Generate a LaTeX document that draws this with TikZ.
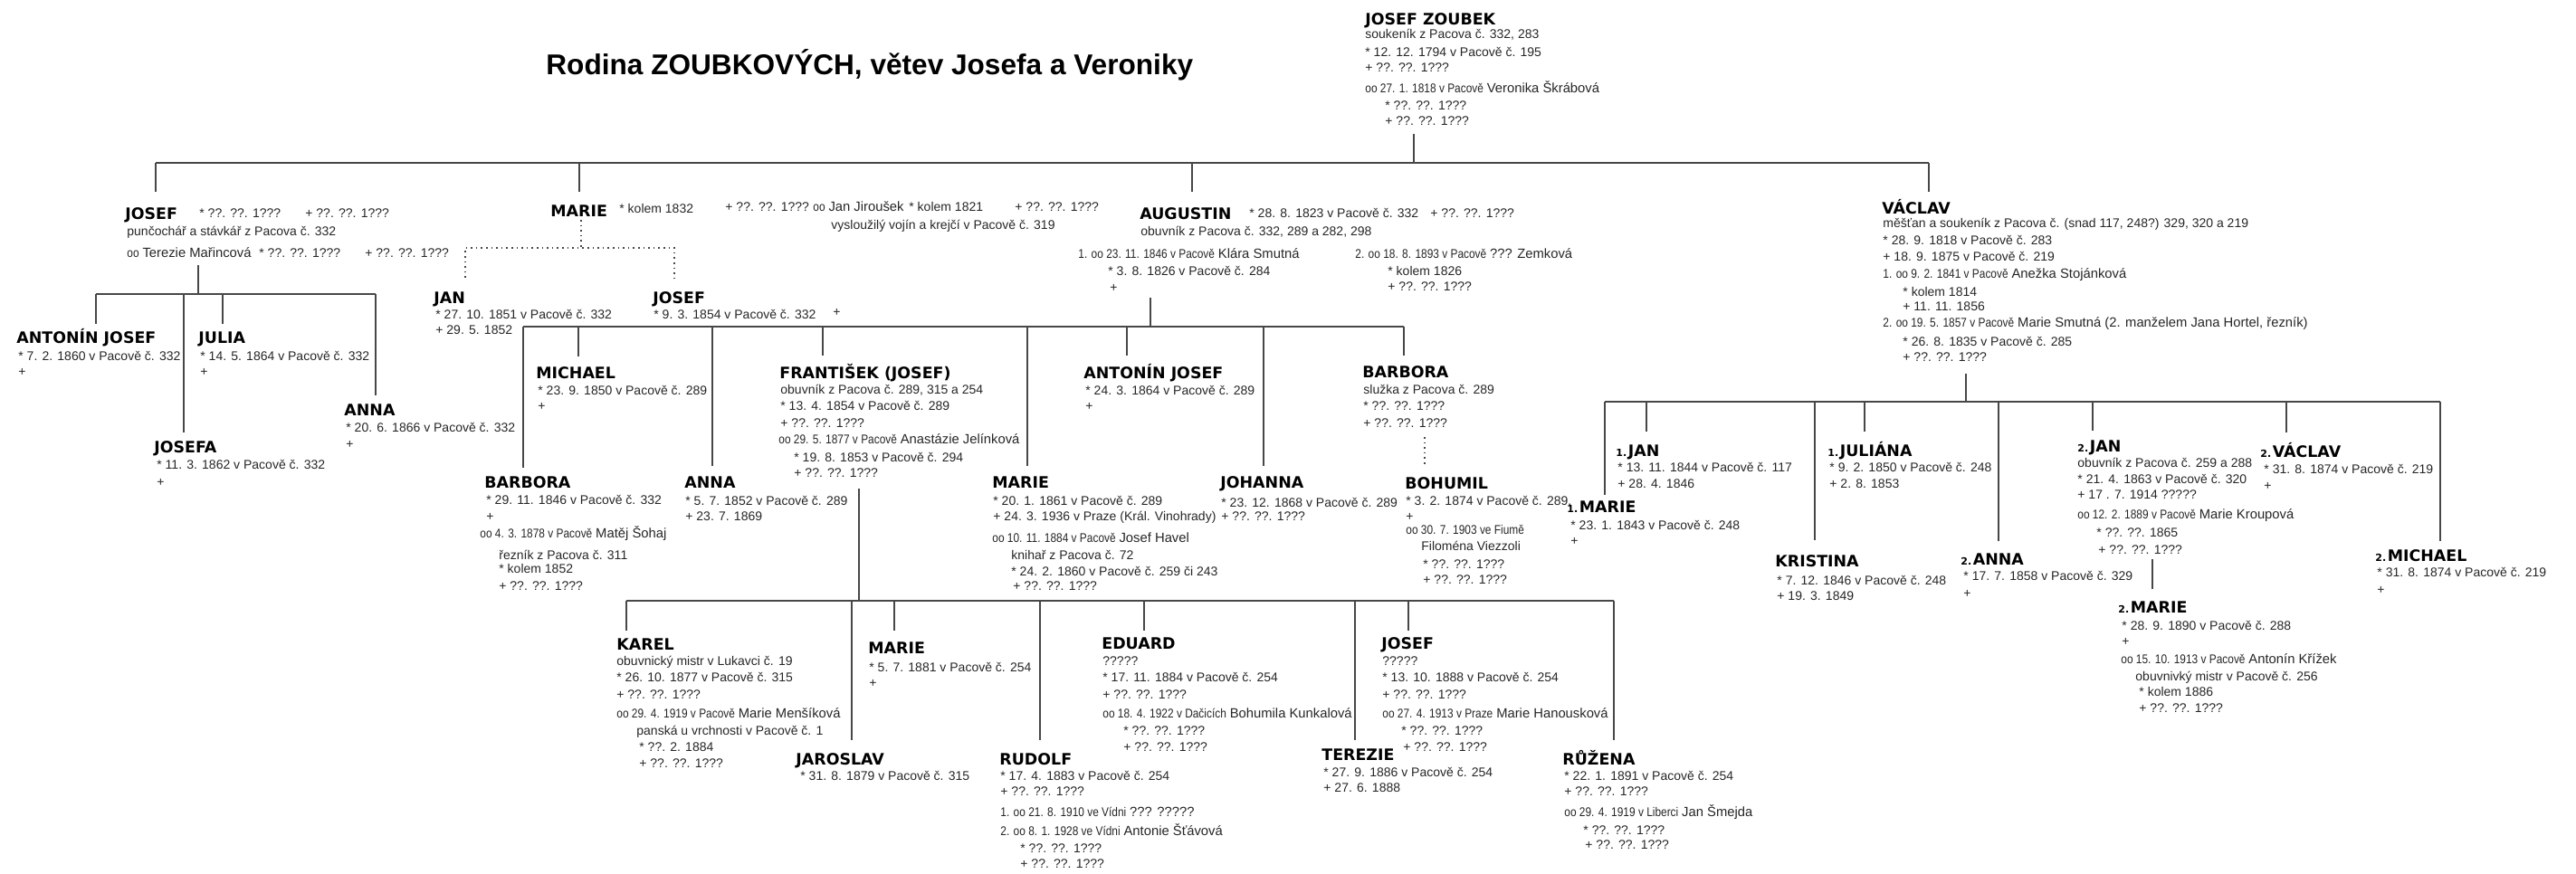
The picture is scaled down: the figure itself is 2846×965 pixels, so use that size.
\documentclass[tikz,border=0pt]{standalone}
\usepackage{fontspec}
\setmainfont{Liberation Sans}
\newfontfamily\nmfont{DejaVu Sans}
\newfontfamily\narrowfont{Liberation Sans}[FakeStretch=0.85]
\newcommand{\pre}[1]{{\narrowfont #1}}
\newcommand{\spouse}[1]{{\fontsize{7.4}{8}\selectfont #1}}
\newcommand{\ord}[1]{{\fontsize{5.5}{6}\selectfont\bfseries #1\kern0.8pt}}
\newcommand{\kid}[4]{\coordinate (#1-t) at (#2,#3); \coordinate (#1-b) at (#2,#4); \draw[ln] (#1-t) -- (#1-b);}
\tikzset{
 dt/.style={anchor=base west, inner sep=0pt, font=\fontsize{7}{8}\selectfont, text=black!85},
 nm/.style={anchor=base west, inner sep=0pt, font=\nmfont\bfseries\fontsize{8.7}{10}\selectfont},
 ttl/.style={anchor=base west, inner sep=0pt, font=\bfseries\fontsize{15.8}{18}\selectfont},
 ln/.style={line width=1.2pt, draw=black!72},
 dl/.style={line width=0.8pt, draw=black!72, dotted}
}
\begin{document}
\begin{tikzpicture}[x=0.5pt,y=-0.5pt]
\useasboundingbox (0,0) rectangle (2846,965);
\node[ttl] (title) at (603,82) {Rodina ZOUBKOVÝCH, větev Josefa a Veroniky};

% ---------- root
\node[nm] (r) at (1508,27) {JOSEF ZOUBEK};
\node[dt] (r1) at (1508,42) {soukeník z Pacova č. 332, 283};
\node[dt] (r2) at (1508,62) {* 12. 12. 1794 v Pacově č. 195};
\node[dt] (r3) at (1508,79) {+ ??. ??. 1???};
\node[dt] (r4) at (1508,102) {\pre{oo 27. 1. 1818 v Pacově} \spouse{Veronika Škrábová}};
\node[dt] (r5) at (1530,121) {* ??. ??. 1???};
\node[dt] (r6) at (1530,138) {+ ??. ??. 1???};
\coordinate (r-d1) at (1562,148); \coordinate (r-d2) at (1562,180);
\draw[ln] (r-d1) -- (r-d2);
\coordinate (g2-l) at (172,180); \coordinate (g2-r) at (2131,180);
\draw[ln] (g2-l) -- (g2-r);
\kid{kJo}{172}{180}{212}
\kid{kMa}{640}{180}{212}
\kid{kAu}{1317}{180}{212}
\kid{kVa}{2131}{180}{212}

% ---------- JOSEF (gen 2)
\node[nm] (j) at (138,242) {JOSEF};
\node[dt] (j1) at (220,240) {* ??. ??. 1???};
\node[dt] (j2) at (337,240) {+ ??. ??. 1???};
\node[dt] (j3) at (140,260) {punčochář a stávkář z Pacova č. 332};
\node[dt] (j4) at (140,284) {\pre{oo} \spouse{Terezie Mařincová}};
\node[dt] (j5) at (286,284) {* ??. ??. 1???};
\node[dt] (j6) at (403,284) {+ ??. ??. 1???};
\coordinate (jf-t) at (219,293); \coordinate (jf-b) at (219,325);
\draw[ln] (jf-t) -- (jf-b);
\coordinate (jf-l) at (106,325); \coordinate (jf-r) at (415,325);
\draw[ln] (jf-l) -- (jf-r);
\kid{jk1}{106}{325}{358}
\kid{jk2}{203}{325}{478}
\kid{jk3}{246}{325}{358}
\kid{jk4}{415}{325}{437}

\node[nm] (aj) at (18,379) {ANTONÍN JOSEF};
\node[dt] (aj1) at (20,398) {* 7. 2. 1860 v Pacově č. 332};
\node[dt] (aj2) at (20,415) {+};
\node[nm] (ju) at (219,379) {JULIA};
\node[dt] (ju1) at (221,398) {* 14. 5. 1864 v Pacově č. 332};
\node[dt] (ju2) at (221,415) {+};
\node[nm] (an) at (380,459) {ANNA};
\node[dt] (an1) at (382,477) {* 20. 6. 1866 v Pacově č. 332};
\node[dt] (an2) at (382,495) {+};
\node[nm] (jf) at (170,500) {JOSEFA};
\node[dt] (jf1) at (173,518) {* 11. 3. 1862 v Pacově č. 332};
\node[dt] (jf2) at (173,537) {+};

% ---------- MARIE (gen 2)
\node[nm] (m) at (608,239) {MARIE};
\node[dt] (m1) at (684,235) {* kolem 1832};
\node[dt] (m2) at (801,233) {+ ??. ??. 1???};
\node[dt] (m3) at (898,233) {\pre{oo} \spouse{Jan Jiroušek}};
\node[dt] (m4) at (1004,233) {* kolem 1821};
\node[dt] (m5) at (1121,233) {+ ??. ??. 1???};
\node[dt] (m6) at (918,253) {vysloužilý vojín a krejčí v Pacově č. 319};
\coordinate (md-t) at (642,243); \coordinate (md-b) at (642,274);
\coordinate (md-l) at (514,274); \coordinate (md-r) at (745,274);
\coordinate (md-lb) at (514,307); \coordinate (md-rb) at (745,307);
\draw[dl] (md-t) -- (md-b);
\draw[dl] (md-lb) -- (md-l) -- (md-r) -- (md-rb);
\node[nm] (mj) at (479,335) {JAN};
\node[dt] (mj1) at (481,352) {* 27. 10. 1851 v Pacově č. 332};
\node[dt] (mj2) at (481,369) {+ 29. 5. 1852};
\node[nm] (mo) at (721,335) {JOSEF};
\node[dt] (mo1) at (722,352) {* 9. 3. 1854 v Pacově č. 332};
\node[dt] (mo2) at (920,349) {+};

% ---------- AUGUSTIN
\node[nm] (a) at (1259,242) {AUGUSTIN};
\node[dt] (a1) at (1380,240) {* 28. 8. 1823 v Pacově č. 332};
\node[dt] (a2) at (1580,240) {+ ??. ??. 1???};
\node[dt] (a3) at (1260,260) {obuvník z Pacova č. 332, 289 a 282, 298};
\node[dt] (a4) at (1191,285) {\pre{1. oo 23. 11. 1846 v Pacově} \spouse{Klára Smutná}};
\node[dt] (a5) at (1224,304) {* 3. 8. 1826 v Pacově č. 284};
\node[dt] (a6) at (1226,322) {+};
\node[dt] (a7) at (1497,285) {\pre{2. oo 18. 8. 1893 v Pacově} \spouse{??? Zemková}};
\node[dt] (a8) at (1533,304) {* kolem 1826};
\node[dt] (a9) at (1533,321) {+ ??. ??. 1???};
\coordinate (af-t) at (1271,329); \coordinate (af-b) at (1271,361);
\draw[ln] (af-t) -- (af-b);
\coordinate (af-l) at (578,361); \coordinate (af-r) at (1551,361);
\draw[ln] (af-l) -- (af-r);
\kid{ak1}{578}{361}{517}
\kid{ak2}{639}{361}{394}
\kid{ak3}{787}{361}{515}
\kid{ak4}{909}{361}{393}
\kid{ak5}{1135}{361}{515}
\kid{ak6}{1245}{361}{393}
\kid{ak7}{1396}{361}{515}
\kid{ak8}{1551}{361}{393}

\node[nm] (mi) at (592,418) {MICHAEL};
\node[dt] (mi1) at (594,436) {* 23. 9. 1850 v Pacově č. 289};
\node[dt] (mi2) at (594,453) {+};
\node[nm] (fr) at (861,418) {FRANTIŠEK (JOSEF)};
\node[dt] (fr1) at (862,435) {obuvník z Pacova č. 289, 315 a 254};
\node[dt] (fr2) at (862,453) {* 13. 4. 1854 v Pacově č. 289};
\node[dt] (fr3) at (862,472) {+ ??. ??. 1???};
\node[dt] (fr4) at (860,490) {\pre{oo 29. 5. 1877 v Pacově} \spouse{Anastázie Jelínková}};
\node[dt] (fr5) at (877,510) {* 19. 8. 1853 v Pacově č. 294};
\node[dt] (fr6) at (877,527) {+ ??. ??. 1???};
\node[nm] (aa) at (1197,418) {ANTONÍN JOSEF};
\node[dt] (aa1) at (1199,436) {* 24. 3. 1864 v Pacově č. 289};
\node[dt] (aa2) at (1199,453) {+};
\node[nm] (bs) at (1505,417) {BARBORA};
\node[dt] (bs1) at (1506,435) {služka z Pacova č. 289};
\node[dt] (bs2) at (1506,453) {* ??. ??. 1???};
\node[dt] (bs3) at (1506,472) {+ ??. ??. 1???};
\coordinate (bd-t) at (1574,483); \coordinate (bd-b) at (1574,515);
\draw[dl] (bd-t) -- (bd-b);

\node[nm] (ba) at (535,539) {BARBORA};
\node[dt] (ba1) at (537,557) {* 29. 11. 1846 v Pacově č. 332};
\node[dt] (ba2) at (537,575) {+};
\node[dt] (ba3) at (530,594) {\pre{oo 4. 3. 1878 v Pacově} \spouse{Matěj Šohaj}};
\node[dt] (ba4) at (551,618) {řezník z Pacova č. 311};
\node[dt] (ba5) at (551,633) {* kolem 1852};
\node[dt] (ba6) at (551,652) {+ ??. ??. 1???};
\node[nm] (na) at (756,539) {ANNA};
\node[dt] (na1) at (757,558) {* 5. 7. 1852 v Pacově č. 289};
\node[dt] (na2) at (757,575) {+ 23. 7. 1869};
\node[nm] (ma) at (1096,539) {MARIE};
\node[dt] (ma1) at (1097,558) {* 20. 1. 1861 v Pacově č. 289};
\node[dt] (ma2) at (1097,575) {+ 24. 3. 1936 v Praze (Král. Vinohrady)};
\node[dt] (ma3) at (1096,599) {\pre{oo 10. 11. 1884 v Pacově} \spouse{Josef Havel}};
\node[dt] (ma4) at (1117,618) {knihař z Pacova č. 72};
\node[dt] (ma5) at (1117,636) {* 24. 2. 1860 v Pacově č. 259 či 243};
\node[dt] (ma6) at (1119,652) {+ ??. ??. 1???};
\node[nm] (jo) at (1348,539) {JOHANNA};
\node[dt] (jo1) at (1349,560) {* 23. 12. 1868 v Pacově č. 289};
\node[dt] (jo2) at (1349,575) {+ ??. ??. 1???};
\node[nm] (bo) at (1552,540) {BOHUMIL};
\node[dt] (bo1) at (1553,558) {* 3. 2. 1874 v Pacově č. 289,};
\node[dt] (bo2) at (1553,575) {+};
\node[dt] (bo3) at (1553,590) {\pre{oo 30. 7. 1903 ve Fiumě}};
\node[dt] (bo4) at (1570,608) {Filoména Viezzoli};
\node[dt] (bo5) at (1572,628) {* ??. ??. 1???};
\node[dt] (bo6) at (1572,645) {+ ??. ??. 1???};

% ---------- FRANTIŠEK family
\coordinate (ff-t) at (949,540); \coordinate (ff-b) at (949,664);
\draw[ln] (ff-t) -- (ff-b);
\coordinate (ff-l) at (692,664); \coordinate (ff-r) at (1783,664);
\draw[ln] (ff-l) -- (ff-r);
\kid{fk1}{692}{664}{697}
\kid{fk2}{941}{664}{818}
\kid{fk3}{988}{664}{697}
\kid{fk4}{1149}{664}{818}
\kid{fk5}{1264}{664}{697}
\kid{fk6}{1497}{664}{818}
\kid{fk7}{1556}{664}{697}
\kid{fk8}{1783}{664}{818}

\node[nm] (ka) at (681,718) {KAREL};
\node[dt] (ka1) at (681,735) {obuvnický mistr v Lukavci č. 19};
\node[dt] (ka2) at (681,753) {* 26. 10. 1877 v Pacově č. 315};
\node[dt] (ka3) at (681,772) {+ ??. ??. 1???};
\node[dt] (ka4) at (681,793) {\pre{oo 29. 4. 1919 v Pacově} \spouse{Marie Menšíková}};
\node[dt] (ka5) at (703,812) {panská u vrchnosti v Pacově č. 1};
\node[dt] (ka6) at (706,830) {* ??. 2. 1884};
\node[dt] (ka7) at (706,848) {+ ??. ??. 1???};
\node[nm] (mr) at (959,722) {MARIE};
\node[dt] (mr1) at (960,742) {* 5. 7. 1881 v Pacově č. 254};
\node[dt] (mr2) at (960,759) {+};
\node[nm] (jr) at (879,845) {JAROSLAV};
\node[dt] (jr1) at (884,862) {* 31. 8. 1879 v Pacově č. 315};
\node[nm] (ed) at (1217,717) {EDUARD};
\node[dt] (ed1) at (1218,735) {?????};
\node[dt] (ed2) at (1218,753) {* 17. 11. 1884 v Pacově č. 254};
\node[dt] (ed3) at (1218,772) {+ ??. ??. 1???};
\node[dt] (ed4) at (1218,793) {\pre{oo 18. 4. 1922 v Dačicích} \spouse{Bohumila Kunkalová}};
\node[dt] (ed5) at (1241,812) {* ??. ??. 1???};
\node[dt] (ed6) at (1241,830) {+ ??. ??. 1???};
\node[nm] (ru) at (1104,845) {RUDOLF};
\node[dt] (ru1) at (1105,862) {* 17. 4. 1883 v Pacově č. 254};
\node[dt] (ru2) at (1105,879) {+ ??. ??. 1???};
\node[dt] (ru3) at (1105,902) {\pre{1. oo 21. 8. 1910 ve Vídni} \spouse{??? ?????}};
\node[dt] (ru4) at (1105,923) {\pre{2. oo 8. 1. 1928 ve Vídni} \spouse{Antonie Šťávová}};
\node[dt] (ru5) at (1127,942) {* ??. ??. 1???};
\node[dt] (ru6) at (1127,959) {+ ??. ??. 1???};
\node[nm] (js) at (1526,717) {JOSEF};
\node[dt] (js1) at (1527,735) {?????};
\node[dt] (js2) at (1527,753) {* 13. 10. 1888 v Pacově č. 254};
\node[dt] (js3) at (1527,772) {+ ??. ??. 1???};
\node[dt] (js4) at (1527,793) {\pre{oo 27. 4. 1913 v Praze} \spouse{Marie Hanousková}};
\node[dt] (js5) at (1548,812) {* ??. ??. 1???};
\node[dt] (js6) at (1550,830) {+ ??. ??. 1???};
\node[nm] (te) at (1460,840) {TEREZIE};
\node[dt] (te1) at (1462,858) {* 27. 9. 1886 v Pacově č. 254};
\node[dt] (te2) at (1462,875) {+ 27. 6. 1888};
\node[nm] (rz) at (1726,845) {RŮŽENA};
\node[dt] (rz1) at (1728,862) {* 22. 1. 1891 v Pacově č. 254};
\node[dt] (rz2) at (1728,879) {+ ??. ??. 1???};
\node[dt] (rz3) at (1728,902) {\pre{oo 29. 4. 1919 v Liberci} \spouse{Jan Šmejda}};
\node[dt] (rz4) at (1749,922) {* ??. ??. 1???};
\node[dt] (rz5) at (1751,938) {+ ??. ??. 1???};

% ---------- VÁCLAV
\node[nm] (v) at (2079,236) {VÁCLAV};
\node[dt] (v1) at (2080,251) {měšťan a soukeník z Pacova č. (snad 117, 248?) 329, 320 a 219};
\node[dt] (v2) at (2080,270) {* 28. 9. 1818 v Pacově č. 283};
\node[dt] (v3) at (2080,288) {+ 18. 9. 1875 v Pacově č. 219};
\node[dt] (v4) at (2080,307) {\pre{1. oo 9. 2. 1841 v Pacově} \spouse{Anežka Stojánková}};
\node[dt] (v5) at (2102,327) {* kolem 1814};
\node[dt] (v6) at (2102,343) {+ 11. 11. 1856};
\node[dt] (v7) at (2080,361) {\pre{2. oo 19. 5. 1857 v Pacově} \spouse{Marie Smutná (2. manželem Jana Hortel, řezník)}};
\node[dt] (v8) at (2102,382) {* 26. 8. 1835 v Pacově č. 285};
\node[dt] (v9) at (2102,399) {+ ??. ??. 1???};
\coordinate (vf-t) at (2172,413); \coordinate (vf-b) at (2172,444);
\draw[ln] (vf-t) -- (vf-b);
\coordinate (vf-l) at (1773,444); \coordinate (vf-r) at (2696,444);
\draw[ln] (vf-l) -- (vf-r);
\kid{vk1}{1773}{444}{547}
\kid{vk2}{1819}{444}{477}
\kid{vk3}{2005}{444}{597}
\kid{vk4}{2060}{444}{477}
\kid{vk5}{2208}{444}{598}
\kid{vk6}{2312}{444}{476}
\kid{vk7}{2526}{444}{478}
\kid{vk8}{2696}{444}{598}

\node[nm] (vj) at (1785,504) {\ord{1.}JAN};
\node[dt] (vj1) at (1787,521) {* 13. 11. 1844 v Pacově č. 117};
\node[dt] (vj2) at (1787,539) {+ 28. 4. 1846};
\node[nm] (vm) at (1731,566) {\ord{1.}MARIE};
\node[dt] (vm1) at (1735,585) {* 23. 1. 1843 v Pacově č. 248};
\node[dt] (vm2) at (1735,602) {+};
\node[nm] (vl) at (2019,504) {\ord{1.}JULIÁNA};
\node[dt] (vl1) at (2021,521) {* 9. 2. 1850 v Pacově č. 248};
\node[dt] (vl2) at (2021,539) {+ 2. 8. 1853};
\node[nm] (vk) at (1961,626) {KRISTINA};
\node[dt] (vk1) at (1963,646) {* 7. 12. 1846 v Pacově č. 248};
\node[dt] (vk2) at (1963,663) {+ 19. 3. 1849};
\node[nm] (va) at (2166,624) {\ord{2.}ANNA};
\node[dt] (va1) at (2169,641) {* 17. 7. 1858 v Pacově č. 329};
\node[dt] (va2) at (2169,660) {+};
\node[nm] (vn) at (2295,499) {\ord{2.}JAN};
\node[dt] (vn1) at (2295,516) {obuvník z Pacova č. 259 a 288};
\node[dt] (vn2) at (2295,534) {* 21. 4. 1863 v Pacově č. 320};
\node[dt] (vn3) at (2295,551) {+ 17 . 7. 1914 ?????};
\node[dt] (vn4) at (2295,573) {\pre{oo 12. 2. 1889 v Pacově} \spouse{Marie Kroupová}};
\node[dt] (vn5) at (2316,593) {* ??. ??. 1865};
\node[dt] (vn6) at (2318,612) {+ ??. ??. 1???};
\coordinate (nf-t) at (2378,618); \coordinate (nf-b) at (2378,651);
\draw[ln] (nf-t) -- (nf-b);
\node[nm] (nm) at (2340,677) {\ord{2.}MARIE};
\node[dt] (nm1) at (2344,696) {* 28. 9. 1890 v Pacově č. 288};
\node[dt] (nm2) at (2344,713) {+};
\node[dt] (nm3) at (2343,733) {\pre{oo 15. 10. 1913 v Pacově} \spouse{Antonín Křížek}};
\node[dt] (nm4) at (2359,752) {obuvnivký mistr v Pacově č. 256};
\node[dt] (nm5) at (2363,769) {* kolem 1886};
\node[dt] (nm6) at (2363,787) {+ ??. ??. 1???};
\node[nm] (vv) at (2497,505) {\ord{2.}VÁCLAV};
\node[dt] (vv1) at (2501,523) {* 31. 8. 1874 v Pacově č. 219};
\node[dt] (vv2) at (2501,541) {+};
\node[nm] (vc) at (2624,620) {\ord{2.}MICHAEL};
\node[dt] (vc1) at (2626,637) {* 31. 8. 1874 v Pacově č. 219};
\node[dt] (vc2) at (2626,656) {+};
\end{tikzpicture}
\end{document}
